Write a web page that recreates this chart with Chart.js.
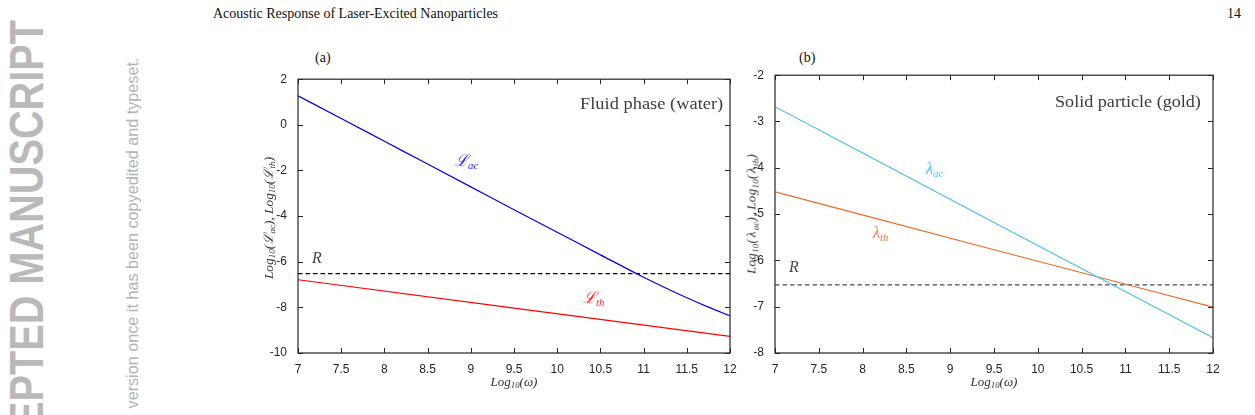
<!DOCTYPE html>
<html>
<head>
<meta charset="utf-8">
<script src="https://cdn.jsdelivr.net/npm/chart.js"></script>
<style>
  body { margin: 0; width: 1255px; height: 415px; background: #fff; position: relative; overflow: hidden; }
  .t { position: absolute; white-space: nowrap; line-height: 1; font-family: 'Liberation Serif', 'DejaVu Serif', serif; }
  .m { font-style: italic; }
  .m sub { font-size: 68%; vertical-align: -0.3em; line-height: 0; }
  .g { display: inline-block; margin: 0 1px 0 1.5px; }
  .wrap { position: absolute; }
</style>
</head>
<body>
  <!-- watermark down the left margin -->
  <div class="t" id="wm1" style="font-family:'Liberation Sans',sans-serif;font-weight:bold;font-size:49px;color:#b9b9b9">ACCEPTED MANUSCRIPT</div>
  <div class="t" id="wm2" style="font-family:'Liberation Sans',sans-serif;font-size:16px;color:#b3b3b3">version once it has been copyedited and typeset.</div>

  <div class="t" style="left:213px;top:7px;font-size:14px;color:#111">Acoustic Response of Laser-Excited Nanoparticles</div>
  <div class="t" style="right:14px;top:7px;font-size:14px;color:#111">14</div>

  <div class="t" style="left:315px;top:51px;font-size:14px;color:#111">(a)</div>
  <div class="t" style="left:799px;top:51px;font-size:14px;color:#111">(b)</div>

  <div class="wrap" id="wrapA" style="left:258px;top:69px;width:482px;height:314px"><canvas id="chartA"></canvas></div>
  <div class="wrap" id="wrapB" style="left:735px;top:65px;width:488px;height:318px"><canvas id="chartB"></canvas></div>

  <!-- panel (a) labels -->
  <div class="t fit" data-w="143" style="left:580px;top:95px;font-size:17px;color:#3d3d3d">Fluid phase (water)</div>
  <div class="t m" style="left:455px;top:153px;font-size:16px;color:#2b2bff">ℒ<sub>ac</sub></div>
  <div class="t m" style="left:583px;top:290px;font-size:16px;color:#ff2222">ℒ<sub>th</sub></div>
  <div class="t m" style="left:312px;top:250px;font-size:16px;color:#444">R</div>
  <div class="t m rot" data-cx="268" data-cy="218" data-w="122" style="font-size:13px;color:#333">Log<sub>10</sub>(ℒ<sub>ac</sub>), Log<sub>10</sub>(ℒ<sub>th</sub>)</div>
  <div class="t m ctr" data-cx="514" data-cy="381" style="font-size:13px;color:#333">Log<sub>10</sub>(ω)</div>

  <!-- panel (b) labels -->
  <div class="t fit" data-w="146" style="left:1055px;top:93px;font-size:17px;color:#3d3d3d">Solid particle (gold)</div>
  <div class="t m" style="left:926px;top:161px;font-size:16px;color:#4dbeee">λ<sub>ac</sub></div>
  <div class="t m" style="left:873px;top:225px;font-size:16px;color:#f07a3a">λ<sub>th</sub></div>
  <div class="t m" style="left:789px;top:259px;font-size:16px;color:#444">R</div>
  <div class="t m rot" data-cx="751" data-cy="214" style="font-size:13px;letter-spacing:0.3px;color:#333">Log<sub>10</sub>(<span class="g">λ</span><sub>ac</sub>), Log<sub>10</sub>(<span class="g">λ</span><sub>th</sub>)</div>
  <div class="t m ctr" data-cx="994" data-cy="381" style="font-size:13px;color:#333">Log<sub>10</sub>(ω)</div>

<script>
// frequency axis, Log10(omega)
const xTicks = [7, 12, 0.5];

// (a) fluid phase (water)
const xAcFluid = [7, 7.5, 8, 8.5, 9, 9.5, 10, 10.5, 11, 11.25, 11.5, 11.75, 12];
const lAcFluid = [1.27, 0.28, -0.72, -1.72, -2.72, -3.72, -4.71, -5.70, -6.68, -7.14, -7.58, -7.99, -8.37];
const xThFluid = [7, 12];
const lThFluid = [-6.79, -9.27];
const xRFluid = [7, 12];
const rFluid = [-6.52, -6.52];
const yTicksA = [-10, 2, 2];

// (b) solid particle (gold)
const xAcGold = [7, 9.5, 12];
const lAcGold = [-2.68, -5.18, -7.67];
const xThGold = [7, 9.5, 12];
const lThGold = [-4.52, -5.77, -7.01];
const xRGold = [7, 12];
const rGold = [-6.53, -6.53];
const yTicksB = [-8, -2, 1];

const pts = (xs, ys) => xs.map((x, i) => ({ x, y: ys[i] }));

// inward ticks on all four sides + box, matlab style
const boxTicks = {
  id: 'boxTicks',
  afterDraw(chart) {
    const { ctx, chartArea: a, scales: { x, y } } = chart;
    ctx.save();
    ctx.strokeStyle = '#262626';
    ctx.lineWidth = 1;
    ctx.beginPath();
    x.ticks.forEach(t => {
      const px = Math.round(x.getPixelForValue(t.value)) + 0.5;
      ctx.moveTo(px, a.bottom); ctx.lineTo(px, a.bottom - 5);
      ctx.moveTo(px, a.top); ctx.lineTo(px, a.top + 5);
    });
    y.ticks.forEach(t => {
      const py = Math.round(y.getPixelForValue(t.value)) + 0.5;
      ctx.moveTo(a.left, py); ctx.lineTo(a.left + 5, py);
      ctx.moveTo(a.right, py); ctx.lineTo(a.right - 5, py);
    });
    ctx.stroke();
    ctx.lineWidth = 1.2;
    ctx.strokeRect(a.left, a.top, a.right - a.left, a.bottom - a.top);
    ctx.restore();
  }
};

function line(data, color, dash) {
  return {
    data, borderColor: color, borderWidth: 1.2, pointRadius: 0,
    borderDash: dash || [], cubicInterpolationMode: 'monotone', fill: false
  };
}

function makeChart(id, datasets, yt) {
  const tickFont = { family: "'Liberation Sans', Arial, sans-serif", size: 12 };
  return new Chart(document.getElementById(id), {
    type: 'line',
    data: { datasets },
    options: {
      responsive: true,
      maintainAspectRatio: false,
      animation: false,
      layout: { padding: { top: 10, right: 10, left: 0, bottom: 0 } },
      plugins: { legend: { display: false }, tooltip: { enabled: false } },
      scales: {
        x: {
          type: 'linear', min: xTicks[0], max: xTicks[1],
          ticks: { stepSize: xTicks[2], color: '#262626', font: tickFont, padding: 1, maxRotation: 0,
                   callback: v => String(Math.round(v * 10) / 10) },
          grid: { display: false }, border: { display: false },
          afterFit: s => { s.height = 30; }
        },
        y: {
          min: yt[0], max: yt[1],
          ticks: { stepSize: yt[2], color: '#262626', font: tickFont, padding: 3 },
          grid: { display: false }, border: { display: false },
          afterFit: s => { s.width = 40; }
        }
      }
    },
    plugins: [boxTicks]
  });
}

makeChart('chartA', [
  line(pts(xAcFluid, lAcFluid), '#0000ff'),
  line(pts(xThFluid, lThFluid), '#ff0000'),
  line(pts(xRFluid, rFluid), '#000000', [4.5, 3])
], yTicksA);

makeChart('chartB', [
  line(pts(xAcGold, lAcGold), '#4dbeee'),
  line(pts(xThGold, lThGold), '#ee6b2a'),
  line(pts(xRGold, rGold), '#4d4d4d', [4.5, 3])
], yTicksB);

// text placement helpers
document.querySelectorAll('.fit').forEach(el => {
  el.style.transformOrigin = '0 0';
  el.style.transform = `scaleX(${el.dataset.w / el.offsetWidth})`;
});
document.querySelectorAll('.rot').forEach(el => {
  const s = el.dataset.w ? el.dataset.w / el.offsetWidth : 1;
  el.style.left = el.dataset.cx + 'px';
  el.style.top = el.dataset.cy + 'px';
  el.style.transform = `translate(-50%,-50%) rotate(-90deg) scaleX(${s})`;
});
document.querySelectorAll('.ctr').forEach(el => {
  el.style.left = el.dataset.cx + 'px';
  el.style.top = el.dataset.cy + 'px';
  el.style.transform = 'translate(-50%,-50%)';
});

// watermark: rotated, ends near the top of the page
function rotEnd(el, cx, endY, len) {
  const s = len / el.offsetWidth;
  el.style.left = cx + 'px';
  el.style.top = (endY + len / 2) + 'px';
  el.style.transform = `translate(-50%,-50%) rotate(-90deg) scaleX(${s})`;
}
const wm1 = document.getElementById('wm1');
rotEnd(wm1, 25.5, 20, wm1.offsetWidth * 0.81);
const wm2 = document.getElementById('wm2');
rotEnd(wm2, 132.5, 57, 351);
</script>
</body>
</html>
